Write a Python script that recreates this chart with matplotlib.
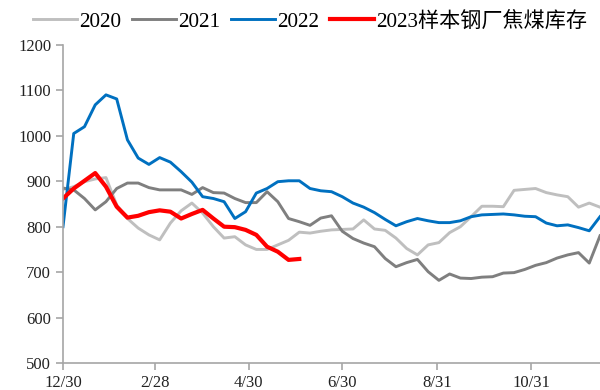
import numpy as np
import matplotlib
matplotlib.use('Agg')
import matplotlib.pyplot as plt

# weekly data, week 0 = 12/30
y2020 = [882, 888, 899, 905, 908, 848, 818, 797, 782, 771, 808, 835, 852, 830, 800, 775, 778,
         760, 750, 750, 760, 770, 788, 786, 790, 793, 794, 795, 815, 795, 792, 775, 752, 738,
         760, 765, 787, 800, 822, 845, 845, 844, 880, 882, 884, 875, 870, 866, 843, 852, 843]
y2021 = [885, 881, 862, 837, 855, 884, 896, 896, 886, 881, 881, 881, 871, 886, 875, 874, 862,
         853, 853, 877, 855, 818, 811, 803, 819, 824, 790, 774, 764, 756, 730, 712, 721, 728,
         701, 682, 696, 687, 686, 689, 690, 698, 699, 706, 715, 721, 731, 738, 743, 720, 780]
y2022 = [800, 1005, 1020, 1068, 1090, 1081, 991, 951, 937, 952, 942, 921, 898, 866, 862, 855, 818,
         833, 874, 884, 899, 901, 901, 884, 879, 877, 866, 852, 843, 831, 816, 802, 811, 818,
         813, 809, 809, 813, 822, 826, 827, 828, 826, 823, 822, 808, 802, 804, 798, 791, 822]
y2023 = [862, 884, 901, 918, 888, 844, 820, 824, 832, 836, 833, 818, 828, 837, 818, 800, 799,
         793, 782, 756, 745, 727, 729]

tick_days = [0, 60, 121, 182, 244, 305]
tick_labels = ['12/30', '2/28', '4/30', '6/30', '8/31', '10/31']

plt.rcParams['font.family'] = ['Liberation Serif', 'Noto Sans CJK SC']

fig = plt.figure(figsize=(6, 3.9), dpi=100)
ax = fig.add_axes([0.105, 0.069, 0.895, 0.816])

ax.plot(np.arange(len(y2020)), y2020, color='#BFBFBF', lw=2.1, label='2020', solid_joinstyle='round')
ax.plot(np.arange(len(y2021)), y2021, color='#7F7F7F', lw=2.1, label='2021', solid_joinstyle='round')
ax.plot(np.arange(len(y2022)), y2022, color='#0070C0', lw=2.1, label='2022', solid_joinstyle='round')
ax.plot(np.arange(len(y2023)), y2023, color='#FF0000', lw=3.0, label='2023样本钢厂焦煤库存', solid_joinstyle='round')

ax.set_xlim(0, 50)
ax.set_ylim(500, 1200)
ax.set_yticks(range(500, 1201, 100))
ax.set_xticks([d / 7 for d in tick_days])
ax.set_xticklabels(tick_labels)

for s in ['top', 'right']:
    ax.spines[s].set_visible(False)
for s in ['left', 'bottom']:
    ax.spines[s].set_color('#A6A6A6')
    ax.spines[s].set_linewidth(1.2)
ax.tick_params(axis='both', colors='#A6A6A6', length=5, width=1.2, labelsize=12, labelcolor='#222222')

fig.legend(loc='center left', bbox_to_anchor=(0.055, 0.945), ncol=4, frameon=False, fontsize=15.2,
           handlelength=2.1, handletextpad=0.1, columnspacing=0.5, borderaxespad=0, borderpad=0)

plt.savefig('out.png', dpi=100)
